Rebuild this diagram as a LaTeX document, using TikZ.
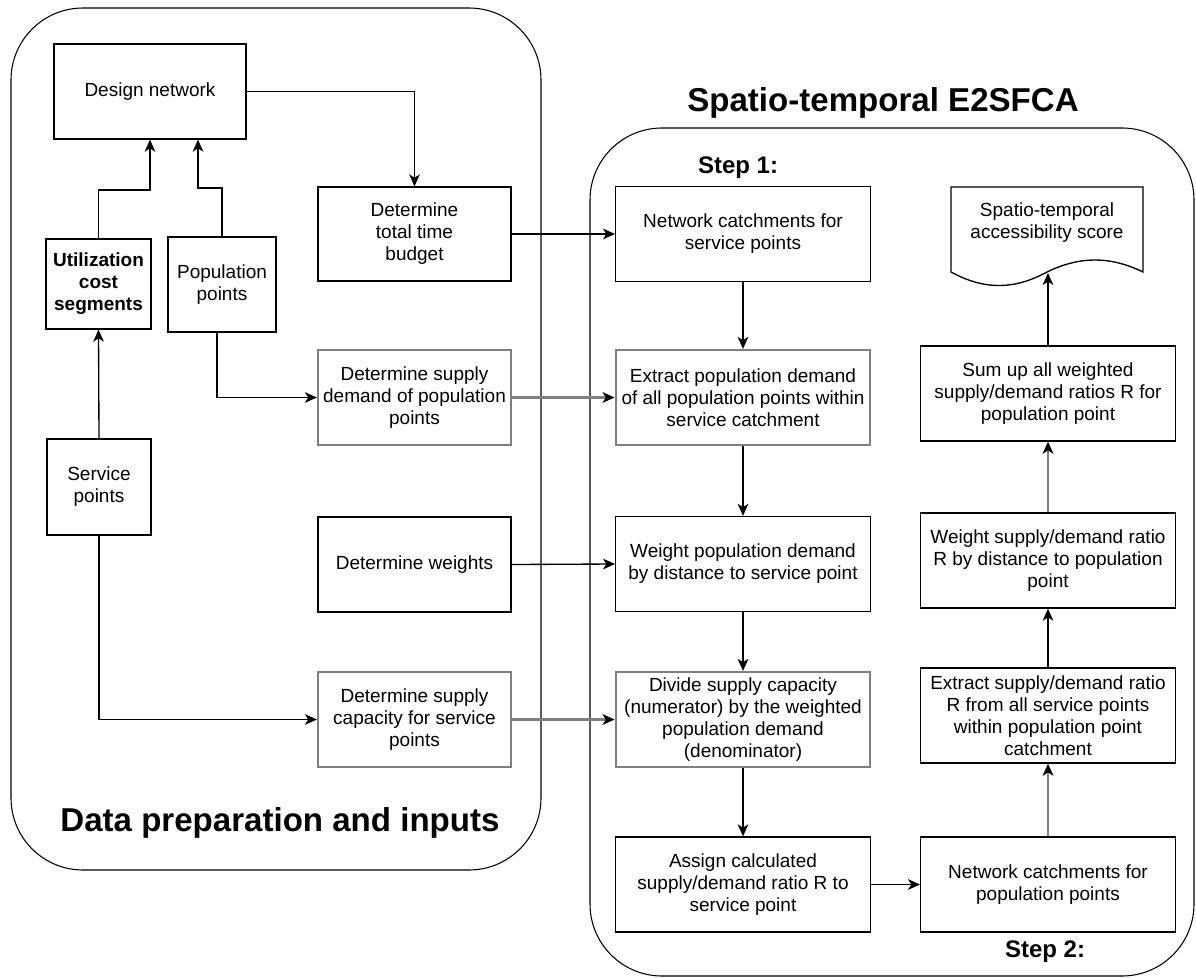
\documentclass[tikz,border=0pt]{standalone}
\usepackage{fontspec}
\setmainfont{Liberation Sans}
\usetikzlibrary{arrows.meta}
\definecolor{lgray}{RGB}{128,128,128}
\begin{document}
\begin{tikzpicture}[x=0.75pt,y=-0.75pt,
  box/.style={draw=black, line width=1pt, fill=white, align=center, inner sep=0pt,
    font=\fontsize{14.25pt}{16.5pt}\selectfont},
  gbox/.style={box, draw=lgray, line width=1.7pt},
  wl/.style={minimum width=144.75pt, minimum height=71.25pt},
  wr/.style={minimum width=191pt, minimum height=71.25pt},
  arr/.style={line width=1pt, -{Stealth[length=9pt,width=8pt,inset=2.5pt]}},
  garr/.style={line width=1.7pt, draw=lgray, -{Stealth[length=9pt,width=8pt,inset=2.5pt,color=black]}},
  container/.style={draw=black, line width=0.8pt, rounded corners=54pt},
  bigtitle/.style={font=\fontsize{24.8pt}{28pt}\selectfont\bfseries},
  steptitle/.style={font=\fontsize{18pt}{20pt}\selectfont\bfseries}]
\useasboundingbox (0,0) rectangle (1196,978);

% containers
\draw[container] (11,8) rectangle (541,870);
\draw[container] (590,128) rectangle (1194,976);

% titles
\node[bigtitle] (title) at (883,103) {Spatio-temporal E2SFCA};
\node[bigtitle] (dtitle) at (280,823) {Data preparation and inputs};
\node[steptitle] (step1) at (738,168) {Step 1:};
\node[steptitle] (step2) at (1045,952) {Step 2:};

% left side
\node[box, minimum width=144pt, minimum height=71.25pt] (design) at (150,91.5) {Design network};
\node[box, minimum width=78.75pt, minimum height=67.5pt, font=\fontsize{14.25pt}{16.5pt}\selectfont\bfseries] (util) at (98.5,284) {Utilization\\cost\\segments};
\node[box, minimum width=81pt, minimum height=71.25pt] (pop) at (222,284.5) {Population\\points};
\node[box, wl, minimum height=70.5pt] (budget) at (414.5,234) {Determine\\total time\\budget};
\node[gbox, wl] (supdem) at (414.5,397.5) {Determine supply\\demand of population\\points};
\node[box, minimum width=78pt, minimum height=72pt] (service) at (99,487) {Service\\points};
\node[box, wl] (weights) at (414.5,564.5) {Determine weights};
\node[gbox, wl] (supcap) at (414.5,719.5) {Determine supply\\capacity for service\\points};

% right side, step 1
\node[box, wr] (nc) at (743,234) {Network catchments for\\service points};
\node[gbox, wr] (extract) at (743,397.5) {Extract population demand\\of all population points within\\service catchment};
\node[box, wr] (wpd) at (743,564) {Weight population demand\\by distance to service point};
\node[gbox, wr] (divide) at (743,719.5) {Divide supply capacity\\(numerator) by the weighted\\population demand\\(denominator)};
\node[box, wr] (assign) at (743,884.5) {Assign calculated\\supply/demand ratio R to\\service point};

% right side, step 2
\node[box, wr] (ncp) at (1048,884.5) {Network catchments for\\population points};
\node[box, wr] (exsd) at (1048,715.5) {Extract supply/demand ratio\\R from all service points\\within population point\\catchment};
\node[box, wr] (wsd) at (1048,560.5) {Weight supply/demand ratio\\R by distance to population\\point};
\node[box, wr] (sum) at (1048,393.5) {Sum up all weighted\\supply/demand ratios R for\\population point};

% document shape
\draw[line width=1pt, fill=white] (951,187) -- (1143,187) -- (1143,272)
  .. controls (1110,256) and (1080,256) .. (1047,272)
  .. controls (1014,290) and (984,290) .. (951,272) -- cycle;
\node[align=center, inner sep=0pt, font=\fontsize{14.25pt}{16.5pt}\selectfont] (score) at (1047,223) {Spatio-temporal\\accessibility score};
\coordinate (scorebot) at (1048,273);

% connectors, left
\draw[arr] (util.north) -- (util.north |- 0,190) -| (design.south);
\draw[arr] (pop.north) -- (pop.north |- 0,188) -| (design.south -| 198,0);
\draw[arr] (design.east) -| (budget.north);
\draw[arr] (service.north) -- (util.south);
\draw[arr] ([xshift=-3.75pt]pop.south) |- (supdem.west);
\draw[arr] (service.south) |- (supcap.west);

% connectors across
\draw[arr] (budget.east) -- (nc.west);
\draw[garr] (supdem.east) -- (extract.west);
\draw[arr] (weights.east) -- (wpd.west);
\draw[garr] (supcap.east) -- (divide.west);

% step 1 chain
\draw[arr] (nc.south) -- (extract.north);
\draw[arr] (extract.south) -- (wpd.north);
\draw[arr] (wpd.south) -- (divide.north);
\draw[arr] (divide.south) -- (assign.north);
\draw[arr] (assign.east) -- (ncp.west);

% step 2 chain
\draw[garr] (ncp.north) -- (exsd.south);
\draw[arr] (exsd.north) -- (wsd.south);
\draw[garr] (wsd.north) -- (sum.south);
\draw[arr] (sum.north) -- (scorebot);
\end{tikzpicture}
\end{document}
